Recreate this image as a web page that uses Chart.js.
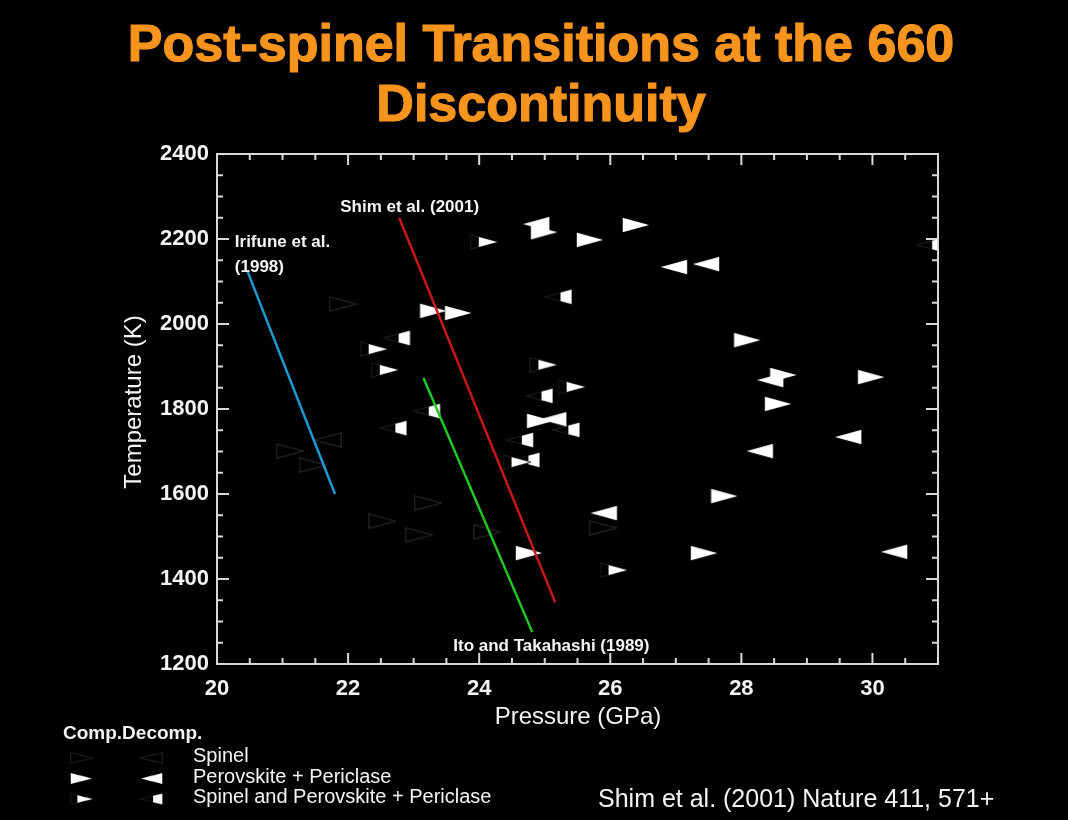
<!DOCTYPE html>
<html>
<head>
<meta charset="utf-8">
<script src="https://cdn.jsdelivr.net/npm/chart.js@4.4.1/dist/chart.umd.min.js"></script>
<style>
html, body { margin: 0; padding: 0; background: #000; }
#wrap { width: 1068px; height: 820px; }
</style>
</head>
<body>
<div id="wrap"><canvas id="chartPost" width="1068" height="820"></canvas></div>
<script>
// tick labels
var xTicks = [20, 22, 24, 26, 28, 30];
var yTicks = [1200, 1400, 1600, 1800, 2000, 2200, 2400];

// Perovskite + Periclase, compression / decompression
var pvCompP = [26.39, 25.69, 24.99, 23.30, 23.68, 24.93, 24.76, 28.09, 28.64, 29.98, 28.56, 27.74, 27.43];
var pvCompT = [2233, 2198, 2216, 2031, 2026, 1772, 1461, 1962, 1880, 1875, 1812, 1595, 1461];
var pvDecP = [24.87, 26.97, 27.46, 25.13, 28.44, 29.63, 28.28, 30.33, 25.90];
var pvDecT = [2235, 2134, 2141, 1776, 1868, 1734, 1701, 1464, 1555];

// Spinel and Perovskite + Periclase
var mixCompP = [24.07, 22.39, 22.56, 24.98, 25.41, 26.05, 24.57];
var mixCompT = [2193, 1941, 1892, 1904, 1852, 1421, 1675];
var mixDecP = [25.21, 22.74, 24.92, 25.33, 24.62, 24.72, 22.69, 23.20, 30.88];
var mixDecT = [2064, 1967, 1831, 1751, 1727, 1680, 1755, 1795, 2186];

// Spinel
var spCompP = [21.92, 21.11, 21.46, 23.22, 22.52, 23.08, 24.12, 25.89];
var spCompT = [2047, 1701, 1668, 1579, 1536, 1504, 1511, 1520];
var spDecP = [21.69];
var spDecT = [1727];

// phase boundaries
var irifuneP = [20.47, 21.80];
var irifuneT = [2122, 1600];
var shimP = [22.78, 25.16];
var shimT = [2250, 1345];
var itoP = [23.15, 24.81];
var itoT = [1873, 1275];

var font = "'Liberation Sans', Arial, Helvetica, sans-serif";
Chart.defaults.font.family = font;

function pts(px, ty) {
    return px.map(function (p, i) { return { x: p, y: ty[i] }; });
}

function triPath(g, dir, w, h) {
    g.beginPath();
    if (dir === 'right') {
        g.moveTo(0.8, 0.8); g.lineTo(w - 0.8, h / 2); g.lineTo(0.8, h - 0.8);
    } else {
        g.moveTo(w - 0.8, 0.8); g.lineTo(0.8, h / 2); g.lineTo(w - 0.8, h - 0.8);
    }
    g.closePath();
}

function marker(dir, kind) {
    var w = 28, h = 16;
    var c = document.createElement('canvas');
    c.width = w; c.height = h;
    var g = c.getContext('2d');
    triPath(g, dir, w, h);
    if (kind === 'filled') {
        g.fillStyle = '#fff';
        g.fill();
        return c;
    }
    g.strokeStyle = kind === 'open' ? '#2a2323' : '#1e1a1a';
    g.lineWidth = 1.2;
    g.stroke();
    if (kind === 'mixed') {
        var cut = dir === 'right' ? w * 0.32 : w * 0.57;
        g.save();
        g.beginPath();
        g.rect(cut, 0, w - cut, h);
        g.clip();
        triPath(g, dir, w, h);
        g.fillStyle = '#fff';
        g.fill();
        g.restore();
    }
    return c;
}

var mk = {
    spR: marker('right', 'open'), spL: marker('left', 'open'),
    pvR: marker('right', 'filled'), pvL: marker('left', 'filled'),
    mxR: marker('right', 'mixed'), mxL: marker('left', 'mixed')
};

function pointSet(label, data, style) {
    return { label: label, data: data, pointStyle: style, pointRadius: 10, showLine: false, clip: 0 };
}

function lineSet(label, data, color) {
    return { label: label, data: data, showLine: true, pointRadius: 0, borderColor: color, borderWidth: 2.5 };
}

var decor = {
    id: 'decor',
    beforeDraw: function (chart) {
        var ctx = chart.ctx;
        ctx.save();
        ctx.fillStyle = '#000';
        ctx.fillRect(0, 0, chart.width, chart.height);
        ctx.restore();
    },
    afterDraw: function (chart) {
        var ctx = chart.ctx, a = chart.chartArea;
        var xs = chart.scales.x, ys = chart.scales.y;
        ctx.save();

        // frame with inward ticks on all four sides
        ctx.strokeStyle = '#d8d8d8';
        ctx.lineWidth = 2;
        ctx.strokeRect(a.left, a.top, a.right - a.left, a.bottom - a.top);
        ctx.beginPath();
        for (var p = 20; p <= 31; p += 0.5) {
            var x = xs.getPixelForValue(p);
            var len = (p % 2 === 0) ? 11 : 6;
            ctx.moveTo(x, a.bottom); ctx.lineTo(x, a.bottom - len);
            ctx.moveTo(x, a.top); ctx.lineTo(x, a.top + len);
        }
        for (var t = 1200; t <= 2400; t += 50) {
            var y = ys.getPixelForValue(t);
            var ln = (t % 200 === 0) ? 12 : 6;
            ctx.moveTo(a.left, y); ctx.lineTo(a.left + ln, y);
            ctx.moveTo(a.right, y); ctx.lineTo(a.right - ln, y);
        }
        ctx.stroke();

        // title
        ctx.fillStyle = '#f7941e';
        ctx.strokeStyle = '#f7941e';
        ctx.lineWidth = 1.2;
        ctx.font = 'bold 52px ' + font;
        ctx.textAlign = 'center';
        ctx.textBaseline = 'alphabetic';
        ctx.fillText('Post-spinel Transitions at the 660', 541, 61);
        ctx.strokeText('Post-spinel Transitions at the 660', 541, 61);
        ctx.fillText('Discontinuity', 541, 121);
        ctx.strokeText('Discontinuity', 541, 121);

        // axis titles
        ctx.fillStyle = '#f4f4f4';
        ctx.font = '24px ' + font;
        ctx.fillText('Pressure (GPa)', 578, 724);
        ctx.save();
        ctx.translate(141, 402);
        ctx.rotate(-Math.PI / 2);
        ctx.fillText('Temperature (K)', 0, 0);
        ctx.restore();

        // boundary labels
        ctx.textAlign = 'left';
        ctx.font = 'bold 17px ' + font;
        var ix = xs.getPixelForValue(irifuneP[0]), iy = ys.getPixelForValue(irifuneT[0]);
        ctx.fillText('Irifune et al.', ix - 13, iy - 25);
        ctx.fillText('(1998)', ix - 13, iy);
        var sx = xs.getPixelForValue(shimP[0]), sy = ys.getPixelForValue(shimT[0]);
        ctx.fillText('Shim et al. (2001)', sx - 59, sy - 6);
        var tx = xs.getPixelForValue(itoP[1]), ty = ys.getPixelForValue(itoT[1]);
        ctx.fillText('Ito and Takahashi (1989)', tx - 79, ty + 19);

        // legend
        ctx.font = 'bold 19px ' + font;
        ctx.fillText('Comp.Decomp.', 63, 739);
        ctx.font = '20px ' + font;
        var rows = [['Spinel', mk.spR, mk.spL], ['Perovskite + Periclase', mk.pvR, mk.pvL],
            ['Spinel and Perovskite + Periclase', mk.mxR, mk.mxL]];
        rows.forEach(function (r, i) {
            var cy = 758 + i * 20.5;
            ctx.drawImage(r[1], 70, cy - 6, 23, 12);
            ctx.drawImage(r[2], 140, cy - 6, 23, 12);
            ctx.fillText(r[0], 193, cy + 4);
        });

        // citation
        ctx.font = '25px ' + font;
        ctx.fillText('Shim et al. (2001) Nature 411, 571+', 598, 807);
        ctx.restore();
    }
};

var post = document.getElementById('chartPost').getContext('2d');
var chart = new Chart(post, {
    type: 'scatter',
    data: {
        datasets: [
            lineSet('Irifune et al. (1998)', pts(irifuneP, irifuneT), '#1e9ad2'),
            lineSet('Shim et al. (2001)', pts(shimP, shimT), '#c81818'),
            lineSet('Ito and Takahashi (1989)', pts(itoP, itoT), '#22c822'),
            pointSet('Spinel comp', pts(spCompP, spCompT), mk.spR),
            pointSet('Spinel decomp', pts(spDecP, spDecT), mk.spL),
            pointSet('Pv+Pc comp', pts(pvCompP, pvCompT), mk.pvR),
            pointSet('Pv+Pc decomp', pts(pvDecP, pvDecT), mk.pvL),
            pointSet('Mixed comp', pts(mixCompP, mixCompT), mk.mxR),
            pointSet('Mixed decomp', pts(mixDecP, mixDecT), mk.mxL)
        ]
    },
    options: {
        responsive: false,
        animation: false,
        layout: { padding: { left: 157, right: 130, top: 154, bottom: 116 } },
        plugins: { legend: { display: false }, tooltip: { enabled: false } },
        scales: {
            x: {
                type: 'linear', min: 20, max: 31,
                afterBuildTicks: function (s) { s.ticks = xTicks.map(function (v) { return { value: v }; }); },
                afterFit: function (s) { s.height = 40; },
                grid: { display: false, drawTicks: false },
                border: { display: false },
                ticks: { color: '#f4f4f4', padding: 12, font: { size: 22, weight: 'bold' },
                    callback: function (v) { return String(v); } }
            },
            y: {
                type: 'linear', min: 1200, max: 2400,
                afterBuildTicks: function (s) { s.ticks = yTicks.map(function (v) { return { value: v }; }); },
                afterFit: function (s) { s.width = 60; },
                grid: { display: false, drawTicks: false },
                border: { display: false },
                ticks: { color: '#f4f4f4', padding: 8, font: { size: 22, weight: 'bold' },
                    callback: function (v) { return String(v); } }
            }
        }
    },
    plugins: [decor]
});
</script>
</body>
</html>
